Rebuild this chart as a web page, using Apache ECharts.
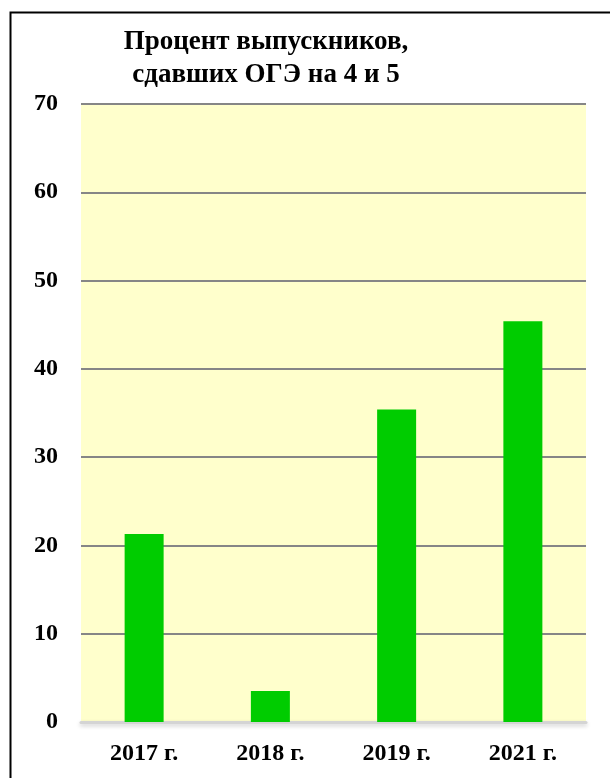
<!DOCTYPE html>
<html>
<head>
<meta charset="utf-8">
<script src="https://cdn.jsdelivr.net/npm/echarts@6/dist/echarts.min.js"></script>
<style>
  html, body { margin: 0; padding: 0; background: #fff; }
  #main { width: 610px; height: 778px; }
</style>
</head>
<body>
<div id="main"></div>
<script>
// данные с картинки
var years = ['2017 г.', '2018 г.', '2019 г.', '2021 г.'];
var percents = [21.3, 3.5, 35.4, 45.4];
var yTicks = { min: 0, max: 70, step: 10 };

var serif = "'Liberation Serif', 'DejaVu Serif', serif";

var chart = echarts.init(document.getElementById('main'));
chart.setOption({
  animation: false,
  backgroundColor: '#ffffff',
  title: {
    text: 'Процент выпускников,\nсдавших ОГЭ на 4 и 5',
    left: 261,
    top: 21,
    textAlign: 'center',
    textStyle: {
      fontFamily: serif,
      fontWeight: 'bold',
      fontSize: 27,
      lineHeight: 33,
      color: '#000'
    }
  },
  // рамка вокруг картинки (правый и нижний край обрезаны)
  graphic: [{
    type: 'rect',
    shape: { x: 10.5, y: 12.5, width: 640, height: 800 },
    style: { fill: 'none', stroke: '#000', lineWidth: 2 },
    silent: true
  }],
  grid: {
    left: 81,
    right: 24,
    top: 104,
    bottom: 56,
    show: true,
    backgroundColor: '#ffffcc',
    borderWidth: 0
  },
  xAxis: {
    type: 'category',
    data: years,
    axisTick: { show: false },
    axisLine: {
      show: true,
      lineStyle: {
        color: '#d4d4d4',
        width: 3,
        shadowColor: 'rgba(0,0,0,0.2)',
        shadowBlur: 4,
        shadowOffsetY: 2
      }
    },
    axisLabel: {
      margin: 20,
      fontFamily: serif,
      fontWeight: 'bold',
      fontSize: 24,
      color: '#000'
    }
  },
  yAxis: {
    type: 'value',
    min: yTicks.min,
    max: yTicks.max,
    interval: yTicks.step,
    axisLine: { show: false },
    axisTick: { show: false },
    splitLine: { lineStyle: { color: '#868686', width: 2 } },
    axisLabel: {
      margin: 23,
      fontFamily: serif,
      fontWeight: 'bold',
      fontSize: 24,
      color: '#000'
    }
  },
  series: [{
    type: 'bar',
    data: percents,
    barWidth: 39,
    itemStyle: { color: '#00cc00' },
    z: 3
  }]
});
</script>
</body>
</html>
